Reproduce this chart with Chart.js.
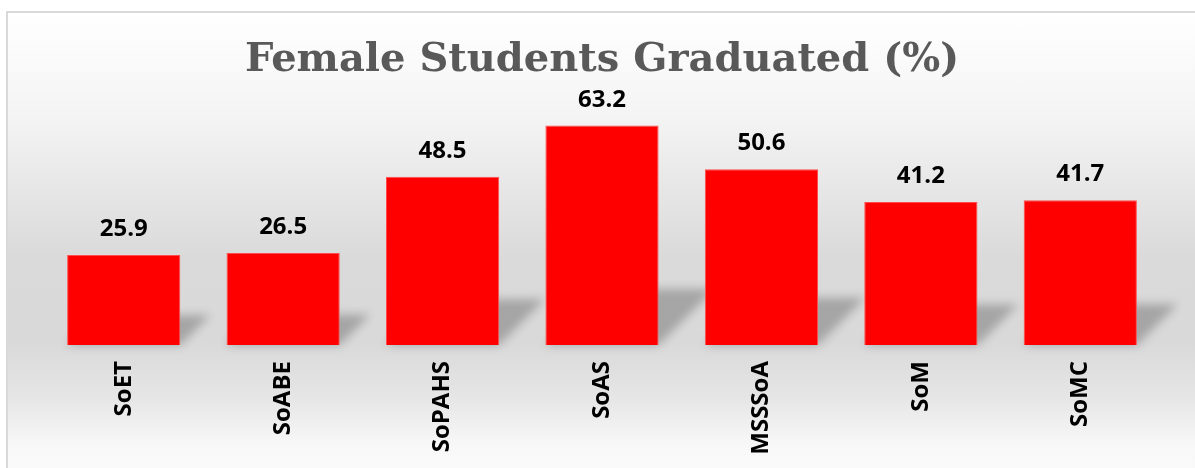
<!DOCTYPE html>
<html>
<head>
<meta charset="utf-8">
<script src="https://cdn.jsdelivr.net/npm/chart.js@4.4.1/dist/chart.umd.min.js"></script>
<style>
  html, body { margin: 0; padding: 0; background: #fff; }
  #frame {
    position: absolute; left: 6px; top: 11px; width: 1200px; height: 470px;
    border-left: 2px solid #d9d9d9; border-top: 2px solid #d9d9d9;
    background: linear-gradient(to bottom, #ffffff 0%, #f4f4f4 22%, #dadada 52%, #d9d9d9 70%, #e6e6e6 82%, #f8f8f8 92%, #fbfbfb 100%);
  }
  #wrap { position: absolute; left: 0; top: 0; width: 1195px; height: 468px; }
</style>
</head>
<body>
<div id="frame"></div>
<div id="wrap"><canvas id="myChart"></canvas></div>
<script>
const schools = ['SoET', 'SoABE', 'SoPAHS', 'SoAS', 'MSSSoA', 'SoM', 'SoMC'];
const graduatedPct = [25.9, 26.5, 48.5, 63.2, 50.6, 41.2, 41.7];

// perspective shadow behind each bar
const barShadow = {
    id: 'barShadow',
    beforeDatasetsDraw(chart) {
        const ctx = chart.ctx;
        ctx.save();
        ctx.filter = 'blur(5px)';
        ctx.fillStyle = 'rgba(0,0,0,0.24)';
        chart.getDatasetMeta(0).data.forEach(bar => {
            const h = bar.base - bar.y;
            const sh = h * 0.2 + 12;
            const left = bar.x - bar.width / 2;
            const right = bar.x + bar.width / 2;
            ctx.beginPath();
            ctx.moveTo(left, bar.base);
            ctx.lineTo(right, bar.base);
            ctx.lineTo(right + sh, bar.base - sh);
            ctx.lineTo(left + sh, bar.base - sh);
            ctx.closePath();
            ctx.fill();
        });
        ctx.restore();
    }
};

const valueLabels = {
    id: 'valueLabels',
    afterDatasetsDraw(chart) {
        const ctx = chart.ctx;
        ctx.save();
        ctx.font = 'bold 24px "Open Sans"';
        ctx.fillStyle = '#000';
        ctx.textAlign = 'center';
        ctx.textBaseline = 'alphabetic';
        chart.getDatasetMeta(0).data.forEach((bar, i) => {
            ctx.fillText(graduatedPct[i].toFixed(1), bar.x, bar.y - 19);
        });
        ctx.restore();
    }
};

const ctx = document.getElementById('myChart').getContext('2d');
new Chart(ctx, {
    type: 'bar',
    data: {
        labels: schools,
        datasets: [{
            data: graduatedPct,
            backgroundColor: '#ff0000',
            borderColor: '#ff4d4d',
            borderWidth: 1,
            barPercentage: 0.71,
            categoryPercentage: 1
        }]
    },
    options: {
        responsive: true,
        maintainAspectRatio: false,
        animation: false,
        layout: { padding: { left: 44, right: 35, top: 0, bottom: 0 } },
        plugins: {
            legend: { display: false },
            tooltip: { enabled: false },
            title: {
                display: true,
                text: 'Female Students Graduated (%)',
                color: '#595959',
                font: { family: '"DejaVu Serif"', size: 40, weight: 'bold' },
                padding: { top: 37, bottom: 17 }
            }
        },
        scales: {
            x: {
                grid: { display: false, drawBorder: false },
                border: { display: false },
                ticks: {
                    color: '#000',
                    font: { family: '"Open Sans"', size: 24, weight: 'bold' },
                    maxRotation: 90,
                    minRotation: 90,
                    padding: 8
                },
                afterFit(scale) { scale.height = 123; }
            },
            y: {
                display: false,
                min: 0,
                max: 70
            }
        }
    },
    plugins: [barShadow, valueLabels]
});
</script>
</body>
</html>
